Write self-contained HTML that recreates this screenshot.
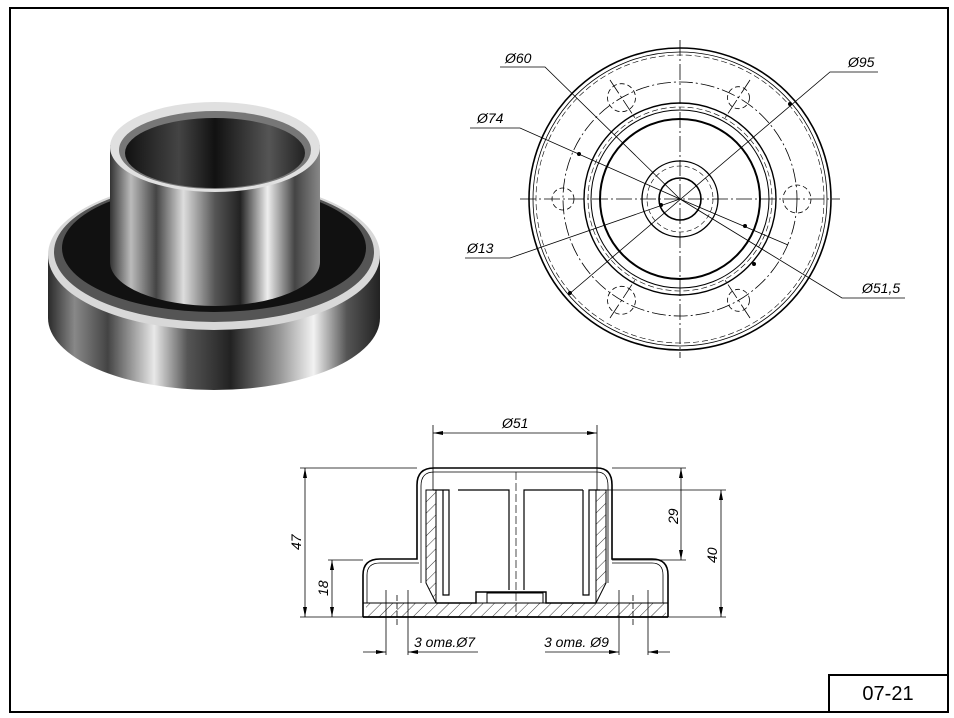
<!DOCTYPE html>
<html><head><meta charset="utf-8"><style>
html,body{margin:0;padding:0;background:#fff;}
svg{display:block}
text{font-family:"Liberation Sans",sans-serif;font-style:italic;fill:#000}
</style></head><body>
<svg width="954" height="718" viewBox="0 0 954 718" xmlns="http://www.w3.org/2000/svg">
<defs>
<linearGradient id="metal" x1="0" x2="1" y1="0" y2="0">
<stop offset="0" stop-color="#2a2a2a"/><stop offset="0.08" stop-color="#888"/><stop offset="0.18" stop-color="#444"/>
<stop offset="0.32" stop-color="#e8e8e8"/><stop offset="0.42" stop-color="#555"/><stop offset="0.55" stop-color="#222"/>
<stop offset="0.7" stop-color="#999"/><stop offset="0.8" stop-color="#f2f2f2"/><stop offset="0.9" stop-color="#555"/><stop offset="1" stop-color="#222"/>
</linearGradient>
<linearGradient id="cup" x1="0" x2="1" y1="0" y2="0">
<stop offset="0" stop-color="#333"/><stop offset="0.1" stop-color="#bbb"/><stop offset="0.22" stop-color="#444"/>
<stop offset="0.35" stop-color="#ddd"/><stop offset="0.5" stop-color="#555"/><stop offset="0.62" stop-color="#222"/>
<stop offset="0.75" stop-color="#eee"/><stop offset="0.88" stop-color="#444"/><stop offset="1" stop-color="#888"/>
</linearGradient>
<linearGradient id="inner" x1="0" x2="1">
<stop offset="0" stop-color="#111"/><stop offset="0.3" stop-color="#444"/><stop offset="0.5" stop-color="#111"/><stop offset="0.8" stop-color="#555"/><stop offset="1" stop-color="#222"/>
</linearGradient>
<pattern id="hatch" width="8" height="8" patternUnits="userSpaceOnUse" patternTransform="rotate(45)">
<line x1="0" y1="0" x2="0" y2="8" stroke="#000" stroke-width="0.8"/></pattern>
</defs>
<rect x="10" y="8" width="938" height="704" fill="none" stroke="#000" stroke-width="2"/>
<rect x="829" y="675" width="119" height="37" fill="none" stroke="#000" stroke-width="2"/>
<text x="888" y="700" font-size="20" text-anchor="middle" style="font-style:normal">07-21</text>

<g>
<path d="M48,255 L48,318 A166,72 0 0 0 380,318 L380,255 Z" fill="url(#metal)"/>
<ellipse cx="214" cy="255" rx="166" ry="75" fill="#d8d8d8"/>
<ellipse cx="214" cy="252" rx="160" ry="70" fill="#555"/>
<ellipse cx="214" cy="248" rx="152" ry="64" fill="#111"/>
<path d="M110,145 L110,262 A105,44 0 0 0 320,262 L320,145 Z" fill="url(#cup)"/>
<ellipse cx="215" cy="147" rx="105" ry="45" fill="#e0e0e0"/>
<ellipse cx="215" cy="150" rx="96" ry="39" fill="#777"/>
<ellipse cx="215" cy="153" rx="90" ry="35" fill="url(#inner)"/>
</g>

<g fill="none" stroke="#000">
<circle cx="680" cy="199" r="151" stroke-width="1.6"/>
<circle cx="680" cy="199" r="147" stroke-width="0.8"/>
<circle cx="680" cy="199" r="144" stroke-width="0.6" stroke-dasharray="6 3"/>
<circle cx="680" cy="199" r="117" stroke-width="0.8" stroke-dasharray="14 3 2 3"/>
<circle cx="680" cy="199" r="96" stroke-width="1.4"/>
<circle cx="680" cy="199" r="92" stroke-width="0.6" stroke-dasharray="6 3"/>
<circle cx="680" cy="199" r="89" stroke-width="1"/>
<circle cx="680" cy="199" r="80" stroke-width="2"/>
<circle cx="680" cy="199" r="38" stroke-width="1.3"/>
<circle cx="680" cy="199" r="33" stroke-width="0.6" stroke-dasharray="5 3"/>
<circle cx="680" cy="199" r="21" stroke-width="1.6"/>
<g stroke-width="0.8" stroke-dasharray="5 3">
<circle cx="797" cy="199" r="14"/><circle cx="563" cy="199" r="11"/>
<circle cx="738.5" cy="97.7" r="11"/><circle cx="621.5" cy="97.7" r="14"/>
<circle cx="621.5" cy="300.3" r="14"/><circle cx="738.5" cy="300.3" r="11"/>
</g>
<g stroke-width="0.8" stroke-dasharray="16 3 2 3">
<line x1="680" y1="40" x2="680" y2="358"/><line x1="520" y1="199" x2="840" y2="199"/>
<line x1="610" y1="80" x2="635" y2="118"/><line x1="750" y1="80" x2="725" y2="118"/>
<line x1="610" y1="318" x2="635" y2="280"/><line x1="750" y1="318" x2="725" y2="280"/>
</g>
<g stroke-width="0.8">
<polyline points="500,67 545,67 680,199"/>
<polyline points="878,72 830,72 568,295"/>
<polyline points="470,128 520,128 680,199"/>
<polyline points="465,258 510,258 680,199"/>
<polyline points="905,298 842,298 680,199"/>
<line x1="680" y1="199" x2="788" y2="245"/>
</g>
</g>
<g fill="#000">
<circle cx="790" cy="104" r="2"/><circle cx="570" cy="293" r="2"/>
<circle cx="579" cy="154" r="2"/><circle cx="754" cy="264" r="2"/>
<circle cx="661" cy="205" r="2"/><circle cx="745" cy="226" r="2"/>
</g>
<text x="505" y="63" font-size="14">Ø60</text>
<text x="848" y="67" font-size="14">Ø95</text>
<text x="477" y="123" font-size="14">Ø74</text>
<text x="467" y="253" font-size="14">Ø13</text>
<text x="862" y="293" font-size="14">Ø51,5</text>

<g stroke="#000" fill="none">
<path d="M367,603 L367,575 Q367,563 380,563 L419,563" stroke-width="0.8"/>
<path d="M663,603 L663,575 Q663,563 652,563 L612,563" stroke-width="0.8"/>
<path d="M363,617 L363,575 Q363,559 380,559 L417,559 L417,485 Q417,468 434,468 L597,468 Q612,468 612,485 L612,559 L652,559 Q668,559 668,575 L668,617" stroke-width="1.6"/>
<path d="M421,583 L421,486 Q421,472 434,472 L597,472 Q608,472 608,486 L608,583" stroke-width="0.8"/>
<rect x="366" y="603" width="300" height="14" fill="url(#hatch)" stroke="none"/>
<path d="M426,490 L436,490 L436,603 L426,583 Z" fill="url(#hatch)" stroke-width="1"/>
<path d="M596,490 L606,490 L606,583 L596,603 Z" fill="url(#hatch)" stroke-width="1"/>
<path d="M436,603 L476,603 L476,592 L546,592 L546,603 L596,603" stroke-width="1.4"/>
<rect x="487" y="593" width="56" height="10" fill="#fff" stroke-width="1"/>
<path d="M433,490 L449,490 L449,595 L443,595 L443,490" stroke-width="1.2"/>
<path d="M458,490 L509,490 L509,590 M524,590 L524,490 L583,490" stroke-width="1.2"/>
<path d="M583,490 L583,595 L589,595 L589,490 L600,490" stroke-width="1.2"/>
<line x1="363" y1="617" x2="668" y2="617" stroke-width="1.8"/>
<line x1="363" y1="603" x2="668" y2="603" stroke-width="1"/>
<line x1="516" y1="472" x2="516" y2="617" stroke-width="0.7" stroke-dasharray="8 3"/>
<g stroke-width="0.8">
<line x1="386" y1="590" x2="386" y2="655"/><line x1="408" y1="590" x2="408" y2="655"/>
<line x1="397" y1="595" x2="397" y2="625" stroke-dasharray="6 2"/>
<line x1="619" y1="590" x2="619" y2="655"/><line x1="648" y1="590" x2="648" y2="655"/>
<line x1="633" y1="595" x2="633" y2="625" stroke-dasharray="6 2"/>
<line x1="363" y1="652" x2="386" y2="652"/><line x1="408" y1="652" x2="478" y2="652"/>
<line x1="545" y1="652" x2="619" y2="652"/><line x1="648" y1="652" x2="670" y2="652"/>
<line x1="433" y1="425" x2="433" y2="490"/><line x1="597" y1="425" x2="597" y2="490"/>
<line x1="433" y1="433" x2="597" y2="433"/>
<line x1="300" y1="468" x2="417" y2="468"/><line x1="300" y1="617" x2="363" y2="617"/>
<line x1="305" y1="468" x2="305" y2="617"/>
<line x1="328" y1="560" x2="363" y2="560"/><line x1="332" y1="560" x2="332" y2="617"/>
<line x1="612" y1="468" x2="686" y2="468"/><line x1="612" y1="560" x2="686" y2="560"/>
<line x1="681" y1="468" x2="681" y2="560"/>
<line x1="600" y1="490" x2="726" y2="490"/><line x1="668" y1="617" x2="726" y2="617"/>
<line x1="721" y1="490" x2="721" y2="617"/>
</g>
</g>
<g fill="#000">
<path d="M433,433 l10,-2 v4 z"/><path d="M597,433 l-10,-2 v4 z"/>
<path d="M305,468 l-2,10 h4 z"/><path d="M305,617 l-2,-10 h4 z"/>
<path d="M332,560 l-2,10 h4 z"/><path d="M332,617 l-2,-10 h4 z"/>
<path d="M681,468 l-2,10 h4 z"/><path d="M681,560 l-2,-10 h4 z"/>
<path d="M721,490 l-2,10 h4 z"/><path d="M721,617 l-2,-10 h4 z"/>
<path d="M386,652 l-10,-2 v4 z"/><path d="M408,652 l10,-2 v4 z"/>
<path d="M619,652 l-10,-2 v4 z"/><path d="M648,652 l10,-2 v4 z"/>
</g>
<text x="502" y="428" font-size="14">Ø51</text>
<text font-size="14" transform="translate(301,550) rotate(-90)">47</text>
<text font-size="14" transform="translate(328,596) rotate(-90)">18</text>
<text font-size="14" transform="translate(678,524) rotate(-90)">29</text>
<text font-size="14" transform="translate(717,563) rotate(-90)">40</text>
<text x="414" y="647" font-size="14">3 отв.Ø7</text>
<text x="544" y="647" font-size="14">3 отв. Ø9</text>
</svg>
</body></html>
